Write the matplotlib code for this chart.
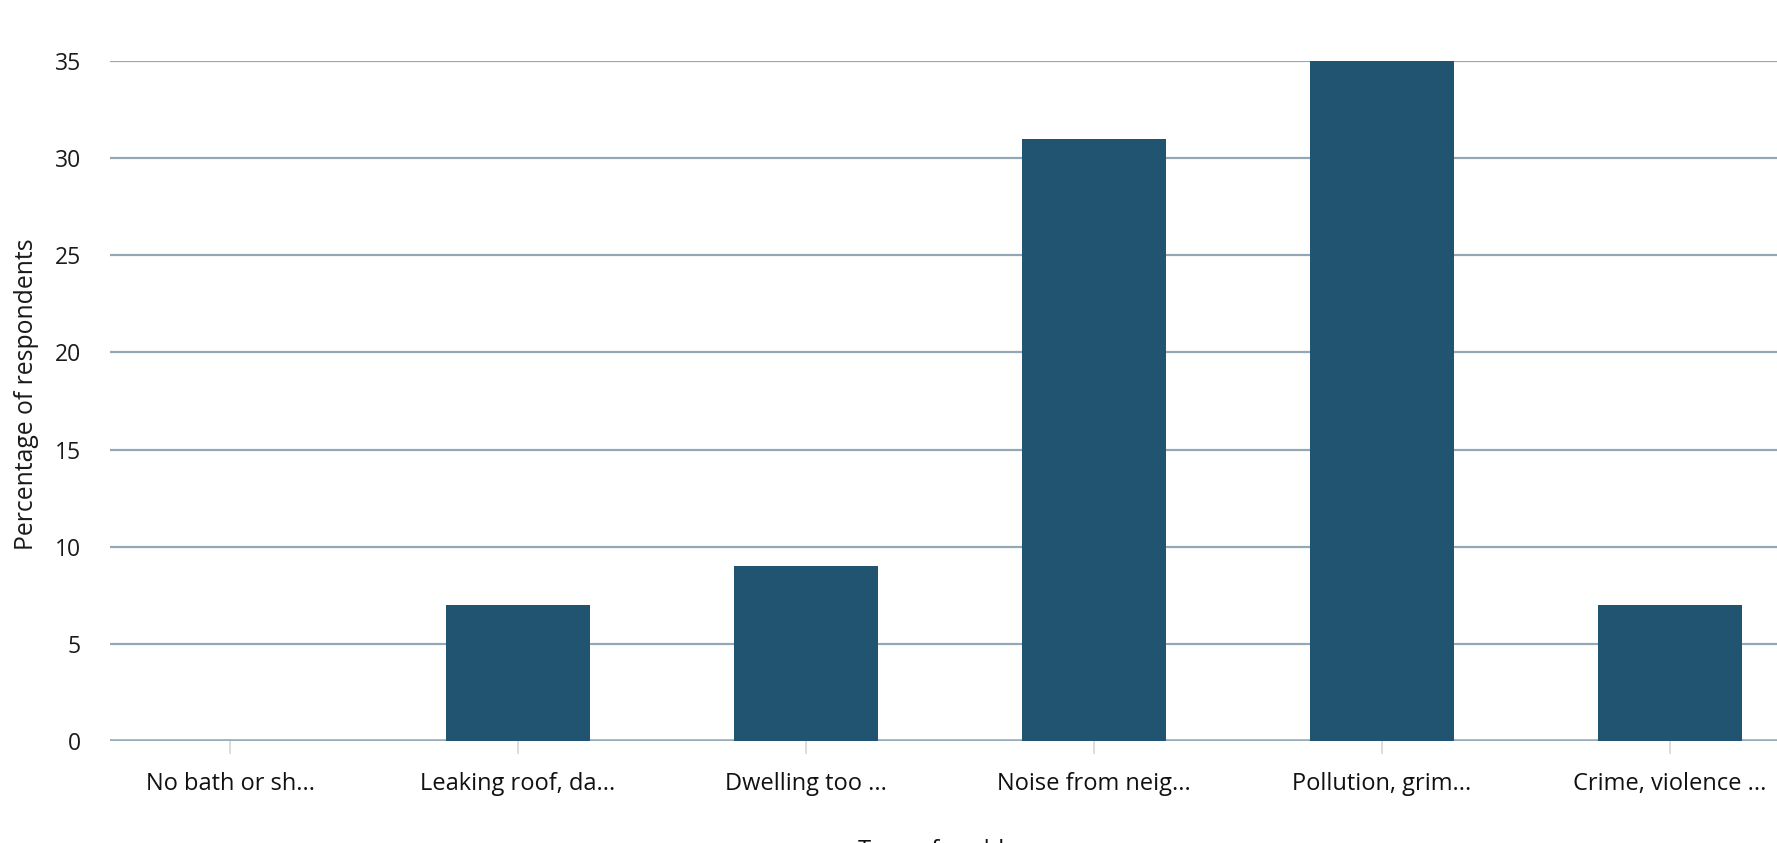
import matplotlib
matplotlib.use("Agg")
import matplotlib.pyplot as plt

categories = ["No bath or sh...", "Leaking roof, da...", "Dwelling too ...",
              "Noise from neig...", "Pollution, grim...", "Crime, violence ..."]
values = [0, 7, 9, 31, 35, 7]
y_ticks = [0, 5, 10, 15, 20, 25, 30, 35]

W, H = 1777, 843
FONT = "Open Sans"
fig = plt.figure(figsize=(W / 100, H / 100), dpi=100)
ax = fig.add_axes([110 / W, (H - 741) / H, (W - 110) / W, (741 - 61) / H])

bar_color = "#215470"
grid_color = "#93a7b4"

ax.bar(range(len(categories)), values, width=0.5, color=bar_color, zorder=3)

ax.set_xlim(-0.417, (W - 230) / 288)
ax.set_ylim(0, 35)
ax.set_yticks(y_ticks)
ax.set_xticks(range(len(categories)))
ax.set_xticklabels(categories, fontsize=17, family=FONT, color="#111111")
ax.set_yticklabels([str(t) for t in y_ticks], fontsize=16.5,
                   family=FONT, color="#1a1a1a")

for s in ax.spines.values():
    s.set_visible(False)
ax.yaxis.grid(True, color=grid_color, linewidth=1.6, zorder=1)
ax.set_axisbelow(True)
ax.axhline(0, color="#9aadba", linewidth=2.6, zorder=2)

ax.tick_params(axis="y", length=0, pad=21)
ax.tick_params(axis="x", length=9, width=1.2, color="#d6d6d6", pad=13)

fig.text(27 / W, (H - 394) / H, "Percentage of respondents", rotation=90,
         ha="center", va="center", fontsize=17.8, family=FONT, color="#1a1a1a")
fig.text(949 / W, -8 / H, "Type of problem", ha="center", va="center",
         fontsize=17, family=FONT, color="#111111")

fig.savefig("out.png", dpi=100, facecolor="white")
